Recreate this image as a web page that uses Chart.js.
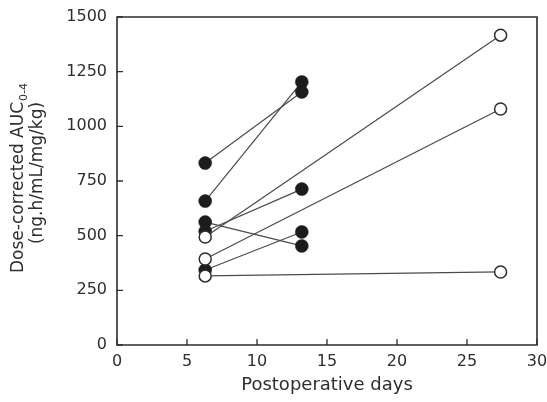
<!DOCTYPE html>
<html>
<head>
<meta charset="utf-8">
<script src="https://cdn.jsdelivr.net/npm/chart.js@4"></script>
<style>
  html, body { margin: 0; padding: 0; background: #fff; }
  #wrap { width: 547px; height: 402px; }
</style>
</head>
<body>
<div id="wrap"><canvas id="c" width="547" height="402"></canvas></div>
<script>
// Postoperative sampling days for each group
const openDays = [6.3, 27.4];
const filledDays = [6.3, 13.2];

// Dose-corrected AUC per patient (first and second sampling)
const openPatientA = [494, 1417];
const openPatientB = [393, 1079];
const openPatientC = [316, 334];
const filledPatientA = [832, 1157];
const filledPatientB = [658, 1203];
const filledPatientC = [562, 453];
const filledPatientD = [520, 713];
const filledPatientE = [343, 517];

const openPatients = [openPatientA, openPatientB, openPatientC];
const filledPatients = [filledPatientA, filledPatientB, filledPatientC, filledPatientD, filledPatientE];

// Axis tick values
const xTicks = [0, 5, 10, 15, 20, 25, 30];
const yTicks = [0, 250, 500, 750, 1000, 1250, 1500];

const INK = '#2e2e2e';
const LINE = '#4a4a4a';
const FONT = "'DejaVu Sans', sans-serif";

function toPoints(days, vals) {
  return vals.map((v, i) => ({ x: days[i], y: v }));
}

const datasets = [];
// open-circle patients first so their markers sit on top
openPatients.forEach(p => datasets.push({
  data: toPoints(openDays, p),
  showLine: true,
  borderColor: LINE,
  borderWidth: 1.2,
  pointRadius: 6,
  pointBackgroundColor: '#ffffff',
  pointBorderColor: INK,
  pointBorderWidth: 1.5
}));
filledPatients.forEach(p => datasets.push({
  data: toPoints(filledDays, p),
  showLine: true,
  borderColor: LINE,
  borderWidth: 1.2,
  pointRadius: 6.5,
  pointBackgroundColor: '#1c1c1c',
  pointBorderColor: '#1c1c1c',
  pointBorderWidth: 0.5
}));

// frame, inward ticks and the rotated y title with subscript
const decorations = {
  id: 'decorations',
  afterDraw(chart) {
    const { ctx, chartArea: a, scales } = chart;
    ctx.save();
    ctx.strokeStyle = INK;
    ctx.lineWidth = 1.6;
    ctx.beginPath();
    ctx.moveTo(a.left, a.top);
    ctx.lineTo(a.right, a.top);
    ctx.lineTo(a.right, a.bottom);
    ctx.lineTo(a.left, a.bottom);
    ctx.closePath();
    ctx.stroke();

    ctx.lineWidth = 1.3;
    ctx.beginPath();
    xTicks.forEach(t => {
      const px = scales.x.getPixelForValue(t);
      ctx.moveTo(px, a.bottom);
      ctx.lineTo(px, a.bottom - 6);
    });
    yTicks.forEach(t => {
      const py = scales.y.getPixelForValue(t);
      ctx.moveTo(a.left, py);
      ctx.lineTo(a.left + 6, py);
    });
    ctx.stroke();

    // y title, two rotated lines
    ctx.fillStyle = INK;
    ctx.textBaseline = 'alphabetic';
    ctx.textAlign = 'left';
    const main = 'Dose-corrected AUC';
    const sub = '0-4';
    ctx.font = '17px ' + FONT;
    const w1 = ctx.measureText(main).width;
    ctx.font = '11px ' + FONT;
    const w2 = ctx.measureText(sub).width;
    ctx.save();
    ctx.translate(23, 178);
    ctx.rotate(-Math.PI / 2);
    const start = -(w1 + w2 + 1) / 2;
    ctx.font = '17px ' + FONT;
    ctx.fillText(main, start, 0);
    ctx.font = '11px ' + FONT;
    ctx.fillText(sub, start + w1 + 1, 4);
    ctx.restore();
    ctx.translate(42, 173);
    ctx.rotate(-Math.PI / 2);
    ctx.font = '17px ' + FONT;
    ctx.textAlign = 'center';
    ctx.fillText('(ng.h/mL/mg/kg)', 0, 0);
    ctx.restore();
  }
};

new Chart(document.getElementById('c'), {
  type: 'scatter',
  data: { datasets },
  plugins: [decorations],
  options: {
    responsive: false,
    animation: false,
    events: [],
    layout: { padding: { top: 17, right: 10, left: 0, bottom: 0 } },
    plugins: { legend: { display: false }, tooltip: { enabled: false } },
    scales: {
      x: {
        type: 'linear',
        min: 0, max: 30,
        afterBuildTicks: s => { s.ticks = xTicks.map(v => ({ value: v })); },
        afterFit: s => { s.height = 57; s.paddingLeft = 0; s.paddingRight = 0; },
        grid: { display: false, drawTicks: false },
        border: { display: false },
        ticks: {
          color: INK, font: { family: FONT, size: 16 }, padding: 7, maxRotation: 0,
          callback: v => String(v)
        },
        title: {
          display: true,
          text: 'Postoperative days',
          color: INK,
          font: { family: FONT, size: 18 },
          padding: { top: 0, bottom: 6 }
        }
      },
      y: {
        type: 'linear',
        min: 0, max: 1500,
        afterBuildTicks: s => { s.ticks = yTicks.map(v => ({ value: v })); },
        afterFit: s => { s.width = 117; s.paddingTop = 0; s.paddingBottom = 0; },
        grid: { display: false, drawTicks: false },
        border: { display: false },
        ticks: {
          color: INK, font: { family: FONT, size: 16 }, padding: 10,
          callback: v => String(v)
        }
      }
    }
  }
});
</script>
</body>
</html>
